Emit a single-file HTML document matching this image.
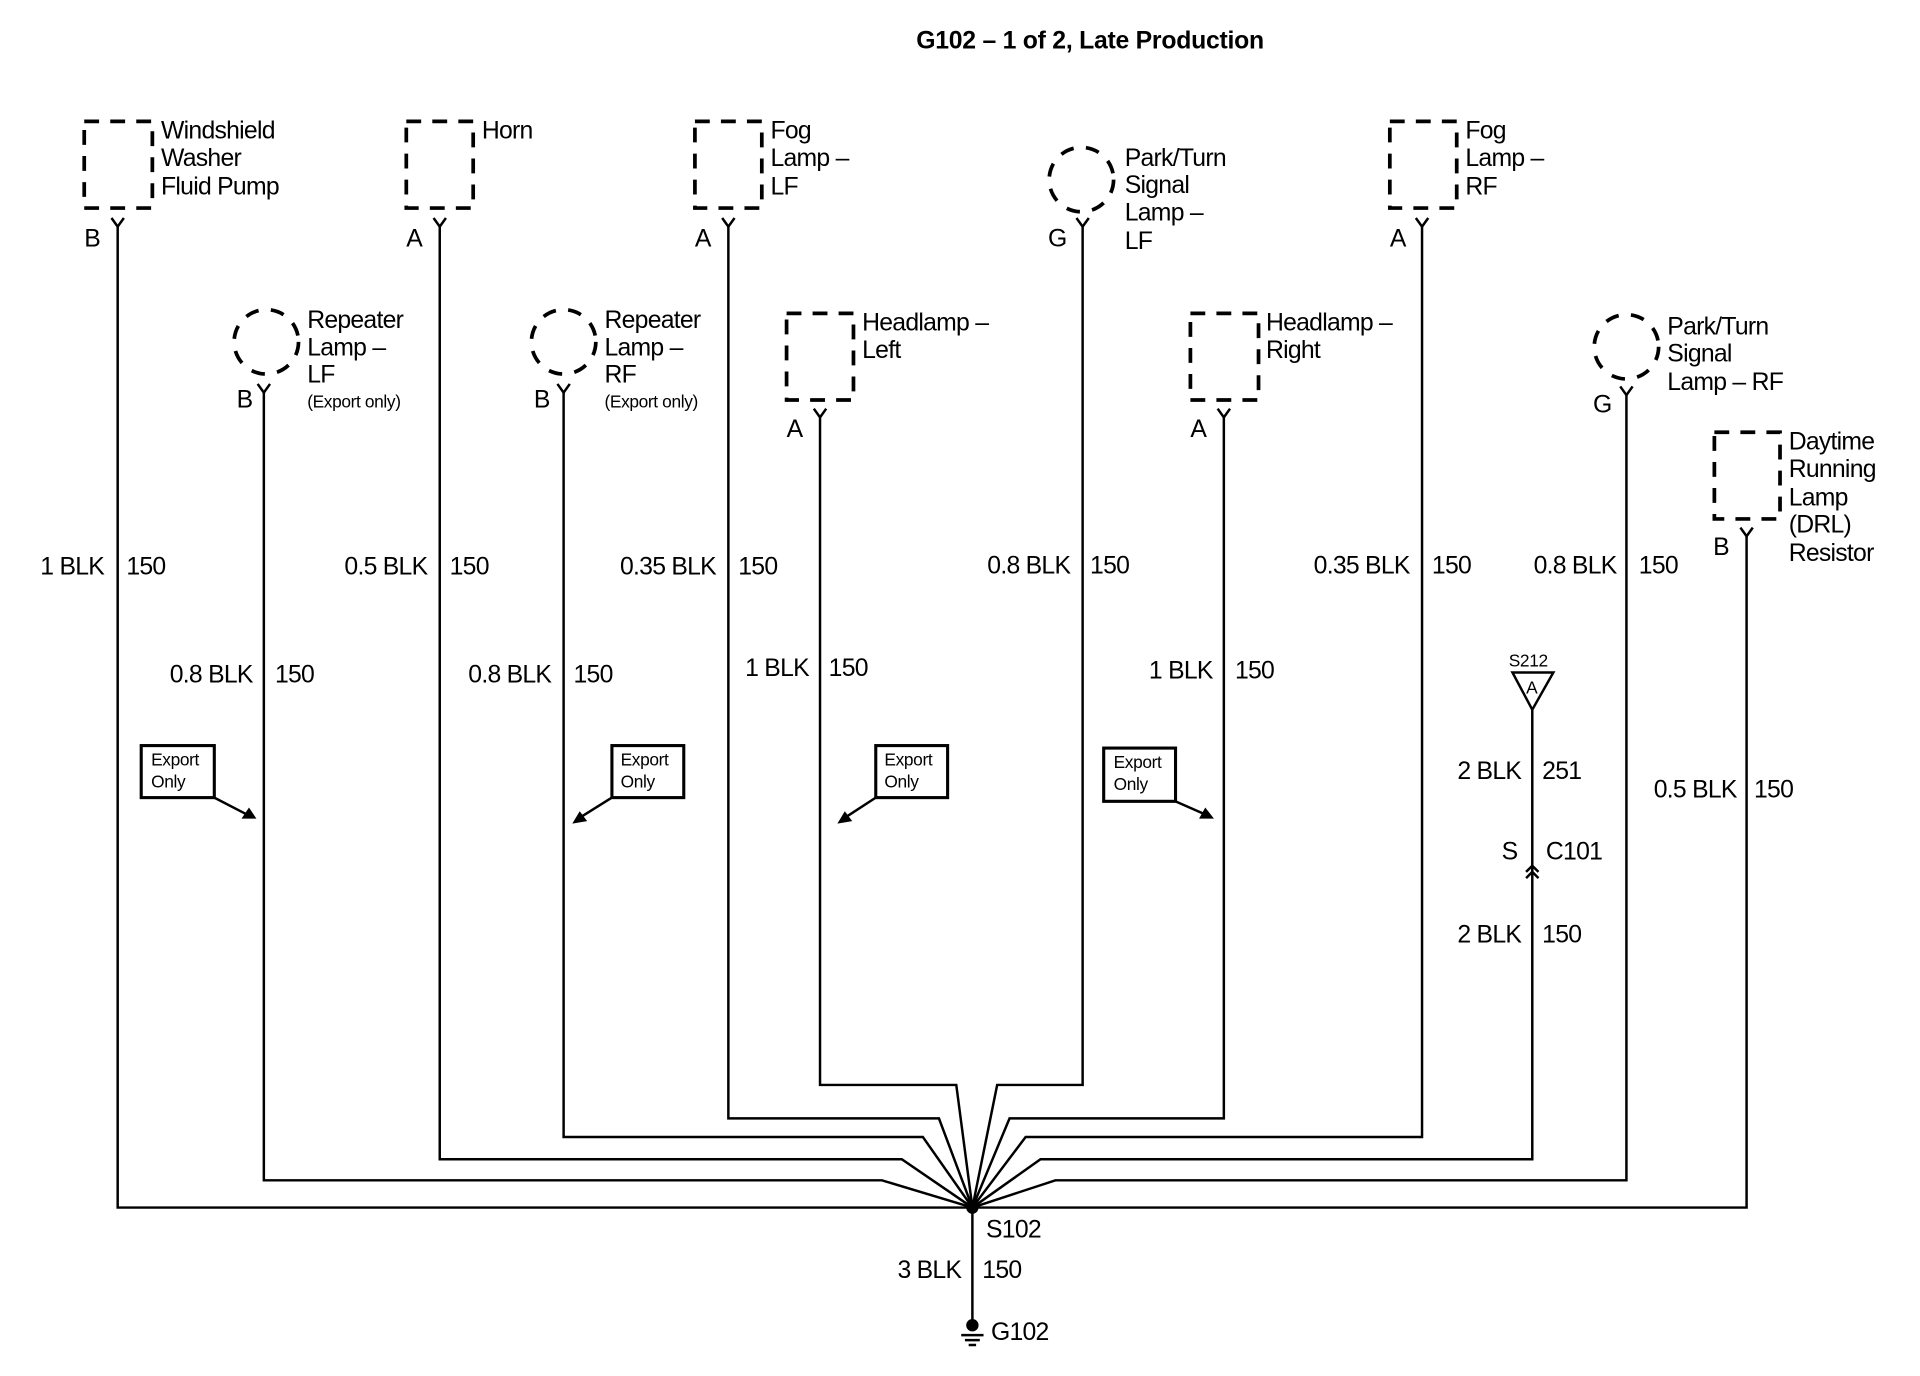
<!DOCTYPE html>
<html><head><meta charset="utf-8"><style>
html,body{margin:0;padding:0;background:#fff;}
svg{display:block;}
text{font-family:"Liberation Sans Narrow","Liberation Sans",sans-serif;font-size:20px;fill:#000;letter-spacing:-0.6px;}
.s{font-size:14px;letter-spacing:-0.3px;}
.t{font-family:"Liberation Sans",sans-serif;font-weight:bold;font-size:20px;letter-spacing:-0.2px;}
</style></head><body>
<svg width="1920" height="1376" viewBox="0 0 1550 1111" preserveAspectRatio="none" xmlns="http://www.w3.org/2000/svg">
<g fill="none" stroke="#000" stroke-width="2">
<g stroke-width="3" stroke-dasharray="12,9">
<rect x="68" y="98" width="55" height="70"/>
<rect x="328" y="98" width="54" height="70"/>
<rect x="561" y="98" width="54" height="70"/>
<rect x="1122" y="98" width="54" height="70"/>
<rect x="635" y="253" width="54" height="70"/>
<rect x="961" y="253" width="55" height="70"/>
<rect x="1384" y="349" width="53" height="70"/>
<circle cx="873" cy="145" r="26" stroke-dasharray="11,10"/>
<circle cx="215" cy="276" r="26" stroke-dasharray="11,10"/>
<circle cx="455" cy="276" r="26" stroke-dasharray="11,10"/>
<circle cx="1313" cy="280" r="26" stroke-dasharray="11,10"/>
</g>
<path d="M90,176 L95,183 L100,176 M350,176 L355,183 L360,176 M583,176 L588,183 L593,176 M869,176 L874,183 L879,176 M1143,176 L1148,183 L1153,176 M208,310 L213,317 L218,310 M450,310 L455,317 L460,310 M657,330 L662,337 L667,330 M983,330 L988,337 L993,330 M1308,312 L1313,319 L1318,312 M1405,426 L1410,433 L1415,426"/>
<path d="M95,183 V975 H1410 V433"/>
<path d="M213,317 V953 H712 L785,975"/>
<path d="M355,183 V936 H728 L785,975"/>
<path d="M455,317 V918 H745 L785,975"/>
<path d="M588,183 V903 H758 L785,975"/>
<path d="M662,337 V876 H772 L785,975"/>
<path d="M874,183 V876 H805 L785,975"/>
<path d="M988,337 V903 H815 L785,975"/>
<path d="M1148,183 V918 H828 L785,975"/>
<path d="M1237,573 V936 H840 L785,975"/>
<path d="M1313,319 V953 H852 L785,975"/>
<path d="M785,975 V1068"/>
<path d="M1221,543 H1254 L1237,573 Z"/>
<path d="M1232,704 L1237,699 L1242,704 M1232,709 L1237,704 L1242,709"/>
<path d="M776,1078 H794 M779,1082 H791 M782,1086 H788"/>
<rect x="114" y="602" width="59" height="42" stroke-width="2.5"/>
<rect x="494" y="602" width="58" height="42" stroke-width="2.5"/>
<rect x="707" y="602" width="58" height="42" stroke-width="2.5"/>
<rect x="891" y="604" width="58" height="43" stroke-width="2.5"/>
<path d="M173,644 L200,658 M494,644 L470,659 M707,644 L684,659 M949,647 L974,658"/>
</g>
<g fill="#000">
<circle cx="785" cy="975" r="5"/>
<circle cx="785" cy="1070" r="5"/>
<path d="M207,661 L195,661 L201,652 Z"/>
<path d="M462,665 L468,655 L474,663 Z"/>
<path d="M676,665 L682,655 L688,663 Z"/>
<path d="M980,661 L968,661 L973,652 Z"/>
</g>
<text class="t" x="880" y="39" text-anchor="middle">G102 – 1 of 2, Late Production</text>
<text x="130" y="112">Windshield</text><text x="130" y="134">Washer</text><text x="130" y="157">Fluid Pump</text>
<text x="389" y="112">Horn</text>
<text x="622" y="112">Fog</text><text x="622" y="134">Lamp –</text><text x="622" y="157">LF</text>
<text x="908" y="134">Park/Turn</text><text x="908" y="156">Signal</text><text x="908" y="178">Lamp –</text><text x="908" y="201">LF</text>
<text x="1183" y="112">Fog</text><text x="1183" y="134">Lamp –</text><text x="1183" y="157">RF</text>
<text x="248" y="265">Repeater</text><text x="248" y="287">Lamp –</text><text x="248" y="309">LF</text><text class="s" x="248" y="329">(Export only)</text>
<text x="488" y="265">Repeater</text><text x="488" y="287">Lamp –</text><text x="488" y="309">RF</text><text class="s" x="488" y="329">(Export only)</text>
<text x="696" y="267">Headlamp –</text><text x="696" y="289">Left</text>
<text x="1022" y="267">Headlamp –</text><text x="1022" y="289">Right</text>
<text x="1346" y="270">Park/Turn</text><text x="1346" y="292">Signal</text><text x="1346" y="315">Lamp – RF</text>
<text x="1444" y="363">Daytime</text><text x="1444" y="385">Running</text><text x="1444" y="408">Lamp</text><text x="1444" y="430">(DRL)</text><text x="1444" y="453">Resistor</text>
<text x="68" y="199">B</text><text x="328" y="199">A</text><text x="561" y="199">A</text><text x="846" y="199">G</text><text x="1122" y="199">A</text>
<text x="191" y="329">B</text><text x="431" y="329">B</text><text x="635" y="353">A</text><text x="961" y="353">A</text><text x="1286" y="333">G</text><text x="1383" y="448">B</text>
<g text-anchor="end">
<text x="84" y="464">1 BLK</text><text x="345" y="464">0.5 BLK</text><text x="578" y="464">0.35 BLK</text><text x="864" y="463">0.8 BLK</text><text x="1138" y="463">0.35 BLK</text><text x="1305" y="463">0.8 BLK</text>
<text x="204" y="551">0.8 BLK</text><text x="445" y="551">0.8 BLK</text><text x="653" y="546">1 BLK</text><text x="979" y="548">1 BLK</text>
<text x="1228" y="629">2 BLK</text><text x="1225" y="694">S</text><text x="1228" y="761">2 BLK</text><text x="1402" y="644">0.5 BLK</text>
<text x="776" y="1032">3 BLK</text>
</g>
<text x="102" y="464">150</text><text x="363" y="464">150</text><text x="596" y="464">150</text><text x="880" y="463">150</text><text x="1156" y="463">150</text><text x="1323" y="463">150</text>
<text x="222" y="551">150</text><text x="463" y="551">150</text><text x="669" y="546">150</text><text x="997" y="548">150</text>
<text x="1245" y="629">251</text><text x="1248" y="694">C101</text><text x="1245" y="761">150</text><text x="1416" y="644">150</text>
<text x="793" y="1032">150</text>
<text x="796" y="999">S102</text><text x="800" y="1082">G102</text>
<text class="s" x="1218" y="538">S212</text><text class="s" x="1232" y="560">A</text>
<text class="s" x="122" y="618">Export</text><text class="s" x="122" y="636">Only</text>
<text class="s" x="501" y="618">Export</text><text class="s" x="501" y="636">Only</text>
<text class="s" x="714" y="618">Export</text><text class="s" x="714" y="636">Only</text>
<text class="s" x="899" y="620">Export</text><text class="s" x="899" y="638">Only</text>
</svg>
</body></html>
